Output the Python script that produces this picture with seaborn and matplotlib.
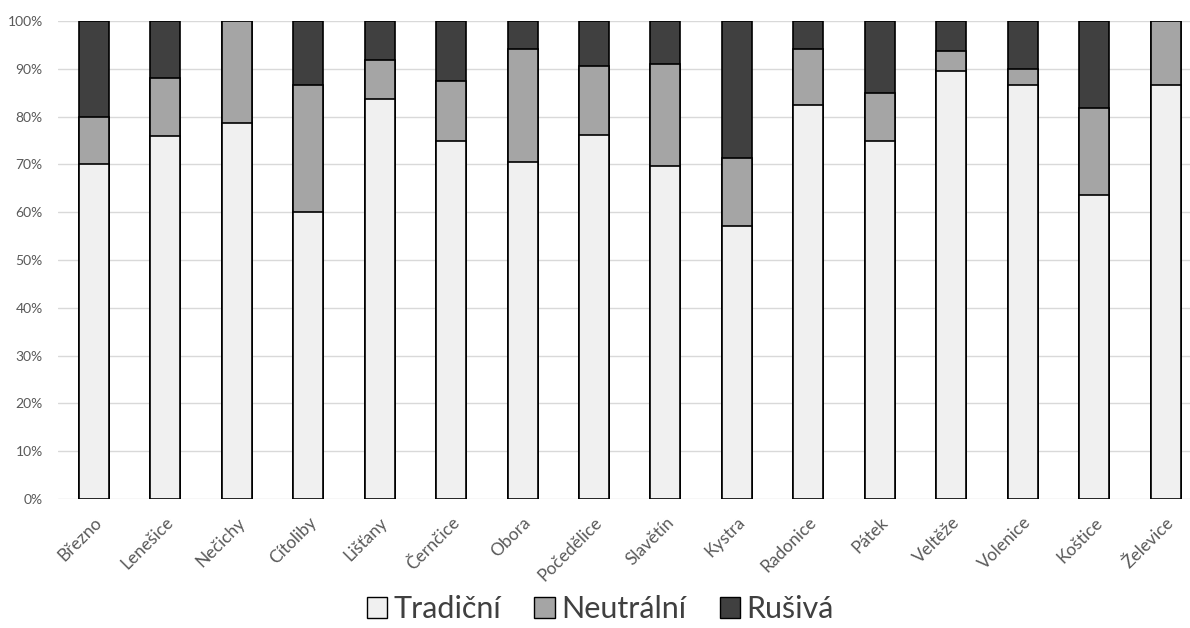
import matplotlib.pyplot as plt
import pandas as pd
import seaborn as sns
from matplotlib.patches import Patch
from matplotlib.ticker import PercentFormatter

# obce a podíly (v %) – čteno z grafu
obce = ["Březno", "Lenešice", "Nečichy", "Cítoliby", "Lišťany", "Černčice",
        "Obora", "Počedělice", "Slavětín", "Kystra", "Radonice", "Pátek",
        "Veltěže", "Volenice", "Koštice", "Želevice"]
tradicni = [70.0, 76.0, 78.6, 60.0, 83.7, 75.0, 70.6, 76.2, 69.7, 57.1,
            82.4, 75.0, 89.6, 86.7, 63.6, 86.7]
neutralni = [10.0, 12.0, 21.4, 26.7, 8.2, 12.5, 23.5, 14.3, 21.2, 14.3,
             11.8, 10.0, 4.2, 3.3, 18.2, 13.3]
rusiva = [20.0, 12.0, 0.0, 13.3, 8.1, 12.5, 5.9, 9.5, 9.1, 28.6,
          5.8, 15.0, 6.2, 10.0, 18.2, 0.0]

colors = {"Tradiční": "#f0f0f0", "Neutrální": "#a5a5a5", "Rušivá": "#404040"}

df = pd.DataFrame({"obec": obce, "Tradiční": tradicni,
                   "Neutrální": neutralni, "Rušivá": rusiva})
df["c1"] = df["Tradiční"]
df["c2"] = df["Tradiční"] + df["Neutrální"]
df["c3"] = df["c2"] + df["Rušivá"]

sns.set_style("white")
plt.rcParams["font.family"] = ["Lato", "DejaVu Sans"]

fig = plt.figure(figsize=(11.9, 6.28), dpi=100)
ax = fig.add_axes([58 / 1190, 1 - 499 / 628, 1 - 58 / 1190, 478 / 628])

# skládané sloupce: nejdřív celek, pak přes něj nižší části
for col, name in [("c3", "Rušivá"), ("c2", "Neutrální"), ("c1", "Tradiční")]:
    sns.barplot(data=df, x="obec", y=col, color=colors[name], width=0.42,
                edgecolor="black", linewidth=1.2, saturation=1, ax=ax)

ax.set_ylim(0, 100)
ax.set_xlim(-0.5, 15.34)
ax.yaxis.set_major_locator(plt.MultipleLocator(10))
ax.yaxis.set_major_formatter(PercentFormatter(decimals=0))
ax.grid(axis="y", color="#d9d9d9", linewidth=1)
ax.set_axisbelow(True)
for s in ax.spines.values():
    s.set_visible(False)
ax.set_xlabel("")
ax.set_ylabel("")
ax.tick_params(axis="y", length=0, labelsize=10, labelcolor="#595959", pad=11)
ax.tick_params(axis="x", length=0, labelsize=12.5, labelcolor="#595959", pad=11)
plt.setp(ax.get_xticklabels(), rotation=45, ha="right", rotation_mode="anchor")

handles = [Patch(facecolor=colors[n], edgecolor="black", linewidth=1, label=n)
           for n in ["Tradiční", "Neutrální", "Rušivá"]]
fig.legend(handles=handles, loc="center", bbox_to_anchor=(600 / 1190, 1 - 609 / 628),
           ncol=3, frameon=False, fontsize=22, labelcolor="#404040",
           handlelength=0.66, handleheight=0.66, handletextpad=0.2, columnspacing=1.1)

fig.savefig("out.png", dpi=100)
